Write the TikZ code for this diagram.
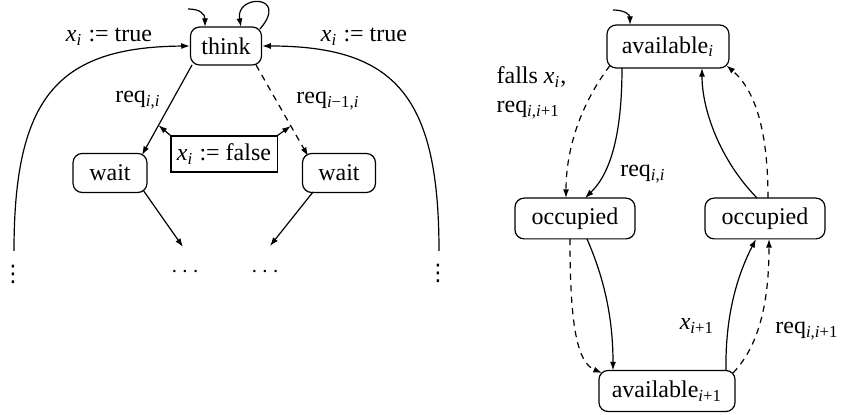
\documentclass[tikz,border=0pt]{standalone}
\usepackage{fontspec}
\setmainfont{Liberation Serif}
\newfontfamily\djv{DejaVu Sans}
\usetikzlibrary{arrows.meta,calc}
\newcommand\sbs[1]{\textsubscript{#1}}
\newcommand\mi[1]{\textit{#1}}
\begin{document}
\begin{tikzpicture}[x=0.41667pt,y=-0.41667pt,
  font=\fontsize{10}{12}\selectfont,
  every path/.style={line width=0.5pt},
  tip/.style={-{Latex[length=3.6pt,width=2.5pt]}},
  dsh/.style={dash pattern=on 2.6pt off 2.2pt},
  state/.style={draw,rounded corners=3.8pt,inner sep=0pt,align=center},
  lab/.style={inner sep=0pt},
  fbox/.style={draw,line width=0.45pt,inner sep=1pt,minimum width=44.2pt,minimum height=15pt}]
\useasboundingbox (0,0) rectangle (844,415);
% ---------------- left diagram ----------------
\node[state,minimum width=29.6pt,minimum height=15.8pt] (think) at (226,46) {think};
\node[state,minimum width=30.8pt,minimum height=16.25pt] (waitL) at (110,173) {wait};
\node[state,minimum width=30.4pt,minimum height=16.25pt] (waitR) at (339,173) {wait};
\node[fbox] (fb) at (224,154) {\mi{x}\sbs{\mi{i}} := false};
\node[lab] (lt) at (109,37) {\mi{x}\sbs{\mi{i}} := true};
\node[lab] (rt) at (364,37) {\mi{x}\sbs{\mi{i}} := true};
\node[lab] (lreq) at (138,100) {req\sbs{\mi{i},\mi{i}}};
\node[lab] (rreq) at (328,101) {req\sbs{\mi{i}−1,\mi{i}}};
\node[lab] (d1) at (185,272) {$\cdots$};
\node[lab] (d2) at (265,272) {$\cdots$};
\node[lab] (vdL) at (13,274) {\djv\fontsize{9.5}{10}\selectfont ⋮};
\node[lab] (vdR) at (438,273) {\djv\fontsize{9.5}{10}\selectfont ⋮};
\coordinate (initL) at (188,9);
\coordinate (d1top) at (183,247);
\coordinate (d2top) at (270,246);
\coordinate (vL) at (14,251);
\coordinate (vR) at (439,251);

\draw[tip] ($(think)+(-34,19)$) -- coordinate[pos=0.67] (cA) ($(waitL)+(32,-18)$);
\draw[tip,dsh] ($(think)+(30,19)$) -- coordinate[pos=0.67] (cB) ($(waitR)+(-31,-17)$);
\draw[tip] (fb.north west) -- (cA);
\draw[tip] (fb.north east) -- (cB);
\draw[tip] ($(waitL)+(33,17)$) -- (d1top);
\draw[tip] ($(waitR)+(-26,19)$) -- (d2top);
\draw[tip] (vL) .. controls (14,98) and (57,47) .. (think.west);
\draw[tip] (vR) .. controls (439,97) and (396,46) .. (think.east);
\draw[tip] (initL) .. controls (200,9) and (205,14) .. ($(think)+(-21,-19)$);
\draw[tip] ($(think)+(34,-17)$) .. controls (290,-6) and (235,-6) .. ($(think)+(15,-19)$);

% ---------------- right diagram ----------------
\node[state,minimum width=50.8pt,minimum height=17.9pt] (avI) at (668,46.5) {available\sbs{\mi{i}}};
\node[state,minimum width=50pt,minimum height=17pt] (occL) at (575,218.5) {occupied};
\node[state,minimum width=50pt,minimum height=17pt] (occR) at (765,218.5) {occupied};
\node[state,minimum width=56.7pt,minimum height=17.1pt] (avI1) at (667,391) {available\sbs{\mi{i}+1}};
\node[lab,align=left,anchor=west] (falls) at (496,93) {falls \mi{x}\sbs{\mi{i}},\\req\sbs{\mi{i},\mi{i}+1}};
\node[lab] (rq) at (643,174) {req\sbs{\mi{i},\mi{i}}};
\node[lab] (xi1) at (697,326) {\mi{x}\sbs{\mi{i}+1}};
\node[lab] (rq2) at (807,331) {req\sbs{\mi{i},\mi{i}+1}};
\coordinate (initR) at (613,10);

\draw[tip] (initR) .. controls (625,10) and (630,15) .. ($(avI)+(-38,-21.5)$);
\draw[tip,dsh] ($(avI)+(-58,19)$) .. controls (580,105) and (566,150) .. ($(occL)+(-9,-20.5)$);
\draw[tip] ($(avI)+(-46,21.5)$) .. controls (622,130) and (612,172) .. ($(occL)+(10,-20.5)$);
\draw[tip] ($(occR)+(-8,-20.5)$) .. controls (720,160) and (702,110) .. ($(avI)+(34,21.5)$);
\draw[tip,dsh] ($(occR)+(3,-20.5)$) .. controls (768,130) and (755,90) .. ($(avI)+(58.5,19)$);
\draw[tip,dsh] ($(occL)+(-5,20.5)$) .. controls (570,320) and (576,362) .. ($(avI1)+(-65,-18)$);
\draw[tip] ($(occL)+(12,20.5)$) .. controls (605,280) and (613,320) .. ($(avI1)+(-54,-20.5)$);
\draw[tip] ($(avI1)+(59,-20.5)$) .. controls (725,310) and (740,270) .. ($(occR)+(-9,20.5)$);
\draw[tip,dsh] ($(avI1)+(66,-18)$) .. controls (760,345) and (769,300) .. ($(occR)+(4,20.5)$);
\end{tikzpicture}
\end{document}
